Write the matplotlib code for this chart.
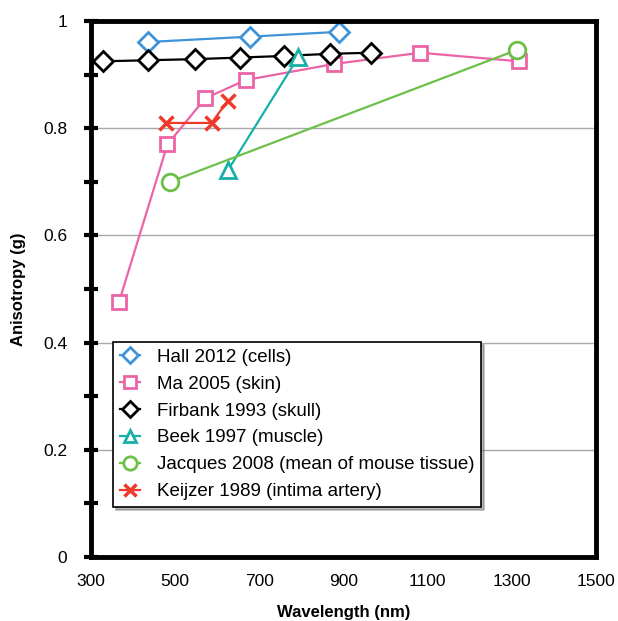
import matplotlib
matplotlib.use("Agg")
import matplotlib.pyplot as plt

plt.rcParams["font.family"] = ["Liberation Sans", "DejaVu Sans"]

# data
hall_wl = [436, 678, 890]
hall_g = [0.961, 0.971, 0.980]

ma_wl = [367, 482, 572, 668, 878, 1083, 1317]
ma_g = [0.476, 0.770, 0.856, 0.890, 0.920, 0.941, 0.925]

firbank_wl = [328, 436, 547, 654, 759, 868, 967]
firbank_g = [0.925, 0.927, 0.929, 0.932, 0.935, 0.939, 0.941]

beek_wl = [626, 793]
beek_g = [0.722, 0.933]

jacques_wl = [488, 1312]
jacques_g = [0.700, 0.946]

keijzer_wl = [478, 587, 625]
keijzer_g = [0.810, 0.810, 0.851]

y_ticks = [0, 0.2, 0.4, 0.6, 0.8, 1.0]
y_labels = ["0", "0.2", "0.4", "0.6", "0.8", "1"]
y_minor = [0.1, 0.3, 0.5, 0.7, 0.9]
x_ticks = [300, 500, 700, 900, 1100, 1300, 1500]

series = [
    ("Hall 2012 (cells)", hall_wl, hall_g, "D", "#3f93d6", 10),
    ("Ma 2005 (skin)", ma_wl, ma_g, "s", "#ec64a6", 10),
    ("Firbank 1993 (skull)", firbank_wl, firbank_g, "D", "black", 10),
    ("Beek 1997 (muscle)", beek_wl, beek_g, "^", "#17b0a6", 11),
    ("Jacques 2008 (mean of mouse tissue)", jacques_wl, jacques_g, "o", "#6cc04a", 12),
    ("Keijzer 1989 (intima artery)", keijzer_wl, keijzer_g, "x", "#ee3a2a", 10),
]

fig = plt.figure(figsize=(6.18, 6.21), dpi=100)
ax = fig.add_axes([0.147, 0.103, 0.817, 0.863])

for label, x, y, mk, col, ms in series:
    if mk == "x":
        ax.plot(x, y, color=col, lw=1.6, marker=mk, ms=ms, mew=2.5, label=label)
    else:
        ax.plot(x, y, color=col, lw=1.6, marker=mk, ms=ms, mew=2,
                mfc="white", mec=col, label=label)

ax.set_xlim(300, 1500)
ax.set_ylim(0, 1)
ax.set_xticks(x_ticks)
ax.set_yticks(y_ticks, y_labels)
ax.set_yticks(y_minor, minor=True)
ax.yaxis.grid(True, color="#a8a8b0", lw=1)
ax.set_axisbelow(True)

ax.tick_params(axis="x", length=0, pad=12, labelsize=12.5)
ax.tick_params(axis="y", which="both", direction="inout", length=10,
               width=3, pad=12, labelsize=12.5)

for sp in ax.spines.values():
    sp.set_linewidth(3.5)

ax.set_xlabel("Wavelength (nm)", fontsize=12, fontweight="bold", labelpad=12)
ax.set_ylabel("Anisotropy (g)", fontsize=12, fontweight="bold", labelpad=12)

leg = ax.legend(loc="upper left", bbox_to_anchor=(0.044, 0.401),
                borderaxespad=0, fontsize=13.5, fancybox=False,
                shadow={"color": "0.45", "alpha": 0.5}, markerscale=0.8,
                handlelength=1.1, handletextpad=0.9, labelspacing=0.52,
                borderpad=0.35)
leg.get_frame().set_edgecolor("black")
leg.get_frame().set_linewidth(1.2)
leg.get_frame().set_alpha(1)

fig.savefig("out.png", dpi=100)
